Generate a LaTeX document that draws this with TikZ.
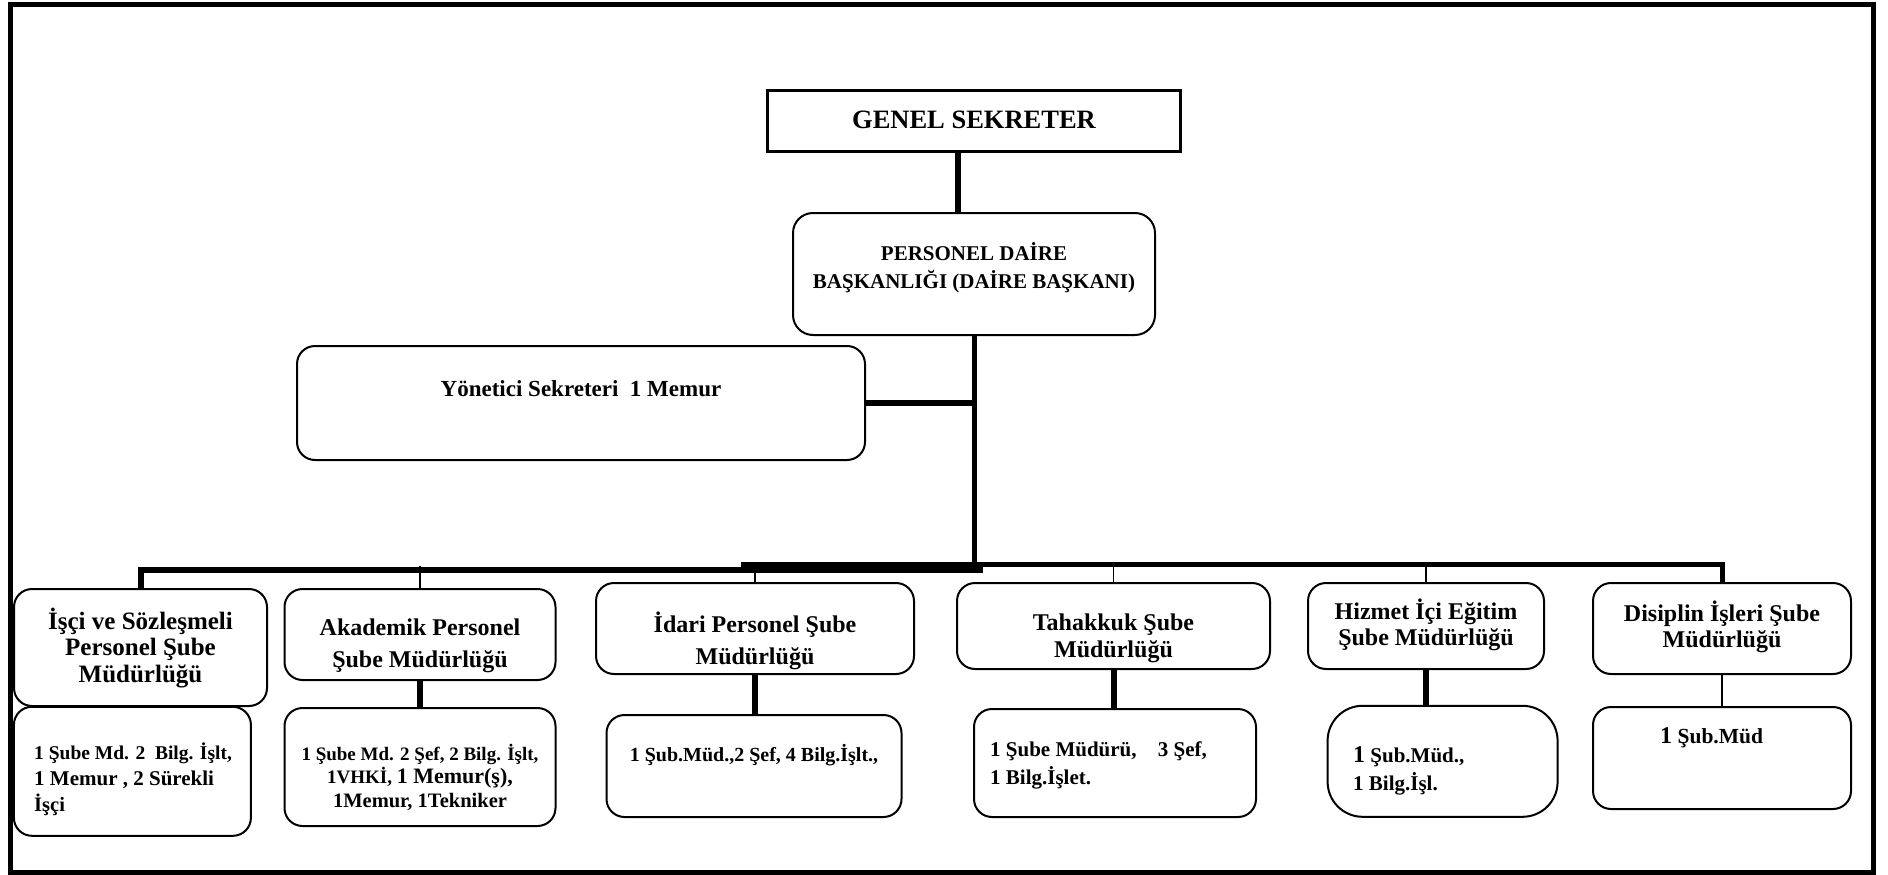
\documentclass[tikz,border=0pt]{standalone}
\usepackage{fontspec}
\setmainfont{Liberation Serif}
\newcommand\FS[2]{\fontsize{#1}{#2}\selectfont}
\begin{document}
\begin{tikzpicture}[x=1pt,y=-1pt,
  box/.style={draw, line width=2pt, rounded corners=18pt, inner sep=0pt},
  sharpbox/.style={draw, line width=3pt, inner sep=0pt},
  txt/.style={inner sep=0pt, align=center, font=\bfseries},
  ltxt/.style={inner sep=0pt, align=left, anchor=west, font=\bfseries},
  thickline/.style={line width=6pt},
  midline/.style={line width=5pt},
  thinline/.style={line width=1.5pt}]
\useasboundingbox (0,0) rectangle (1888,875);
\draw[line width=5pt] (10,4.5) rectangle (1873,872);

% boxes
\node[sharpbox, minimum width=413pt, minimum height=61pt] (GS) at (974,121) {};
\node[box, rounded corners=20pt, minimum width=362pt, minimum height=122pt] (PD) at (974,274) {};
\node[box, minimum width=568pt, minimum height=114pt] (YS) at (581,403) {};

\node[box, minimum width=253pt, minimum height=117pt] (B1) at (140.5,647.5) {};
\node[box, minimum width=271pt, minimum height=91pt] (B2) at (420,634.5) {};
\node[box, minimum width=318pt, minimum height=91pt] (B3) at (755,628.5) {};
\node[box, minimum width=313pt, minimum height=86pt] (B4) at (1113.5,626) {};
\node[box, minimum width=236pt, minimum height=86pt] (B5) at (1426,626) {};
\node[box, minimum width=258pt, minimum height=91pt] (B6) at (1722,628.5) {};

\node[box, minimum width=237pt, minimum height=129pt] (C1) at (132.4,771.3) {};
\node[box, minimum width=271pt, minimum height=118pt] (C2) at (420,767) {};
\node[box, minimum width=295pt, minimum height=102pt] (C3) at (754,766) {};
\node[box, minimum width=282pt, minimum height=108pt] (C4) at (1115,763) {};
\node[box, rounded corners=35pt, minimum width=230pt, minimum height=111pt] (C5) at (1442.6,761.3) {};
\node[box, minimum width=258pt, minimum height=102pt] (C6) at (1722,758) {};

% texts
\node[txt, font=\bfseries\FS{26.5}{30}] (tGS) at (974,120) {GENEL SEKRETER};
\node[txt, font=\bfseries\FS{21}{28}] (tPD) at (974,268) {PERSONEL DAİRE\\BAŞKANLIĞI (DAİRE BAŞKANI)};
\node[txt, font=\bfseries\FS{23}{27}] (tYS) at (581,389) {Yönetici Sekreteri~ 1 Memur};

\node[txt, font=\bfseries\FS{25}{26.5}] (tB1) at (140.5,648) {İşçi ve Sözleşmeli\\Personel Şube\\Müdürlüğü};
\node[txt, font=\bfseries\FS{24}{32}] (tB2) at (420,646) {Akademik Personel\\Şube Müdürlüğü};
\node[txt, font=\bfseries\FS{24}{32}] (tB3) at (755,641) {İdari Personel Şube\\Müdürlüğü};
\node[txt, font=\bfseries\FS{24}{27}] (tB4) at (1113.5,638.5) {Tahakkuk Şube\\Müdürlüğü};
\node[txt, font=\bfseries\FS{24}{26.5}] (tB5) at (1426,625) {Hizmet İçi Eğitim\\Şube Müdürlüğü};
\node[txt, font=\bfseries\FS{24}{26.5}] (tB6) at (1722,627) {Disiplin İşleri Şube\\Müdürlüğü};

\node[ltxt, font=\bfseries\FS{19.5}{26}] (tC1) at (34,779) {1 Şube Md. 2~ Bilg. İşlt,\\{\FS{21}{26}1 Memur , 2 Sürekli}\\{\FS{20.5}{26}İşçi}};
\node[txt, font=\bfseries\FS{19}{23.5}] (tC2) at (420,777) {1 Şube Md. 2 Şef, 2 Bilg. İşlt,\\1VHKİ, {\FS{22}{23.5}1 Memur(ş),}\\{\FS{20.5}{23.5}1Memur, 1Tekniker}};
\node[txt, font=\bfseries\FS{20}{24}] (tC3) at (754,755) {1 Şub.Müd.,2 Şef, 4 Bilg.İşlt.,};
\node[ltxt, font=\bfseries\FS{21}{28}] (tC4) at (990,765) {1 Şube Müdürü,\hspace{16pt} 3 Şef,\\1 Bilg.İşlet.};
\node[ltxt, font=\bfseries\FS{21}{28}] (tC5) at (1353,771) {{\FS{24}{28}1} Şub.Müd.,\\1 Bilg.İşl.};
\node[ltxt, font=\bfseries\FS{21.5}{24}] (tC6) at (1660,738) {{\FS{24}{24}1} Şub.Müd};

% connectors
\coordinate (jA) at (983,570);
\coordinate (jB) at (741,564.5);
\coordinate (busY) at (0,566);
\draw[thickline] ([xshift=-16pt]GS.south) -- ([xshift=-16pt]PD.north);
\draw[midline] (PD.south) -- (PD.south |- jB);
\draw[thickline] (YS.east) -- (YS.east -| PD.south);
\draw[thickline] (B1.north) |- (jA);
\draw[midline] (jB) -| (B6.north);
\draw[thinline] (B2.north |- busY) -- (B2.north);
\draw[thinline] (B3.north |- busY) -- (B3.north);
\draw[thinline] (B4.north |- busY) -- (B4.north);
\draw[thinline] (B5.north |- busY) -- (B5.north);
\draw[thickline] (B2.south) -- (C2.north);
\draw[thickline] (B3.south) -- (B3.south |- C3.north);
\draw[thickline] (B4.south) -- (B4.south |- C4.north);
\draw[thickline] (B5.south) -- (B5.south |- C5.north);
\draw[thinline] (B6.south) -- (C6.north);
\end{tikzpicture}
\end{document}
